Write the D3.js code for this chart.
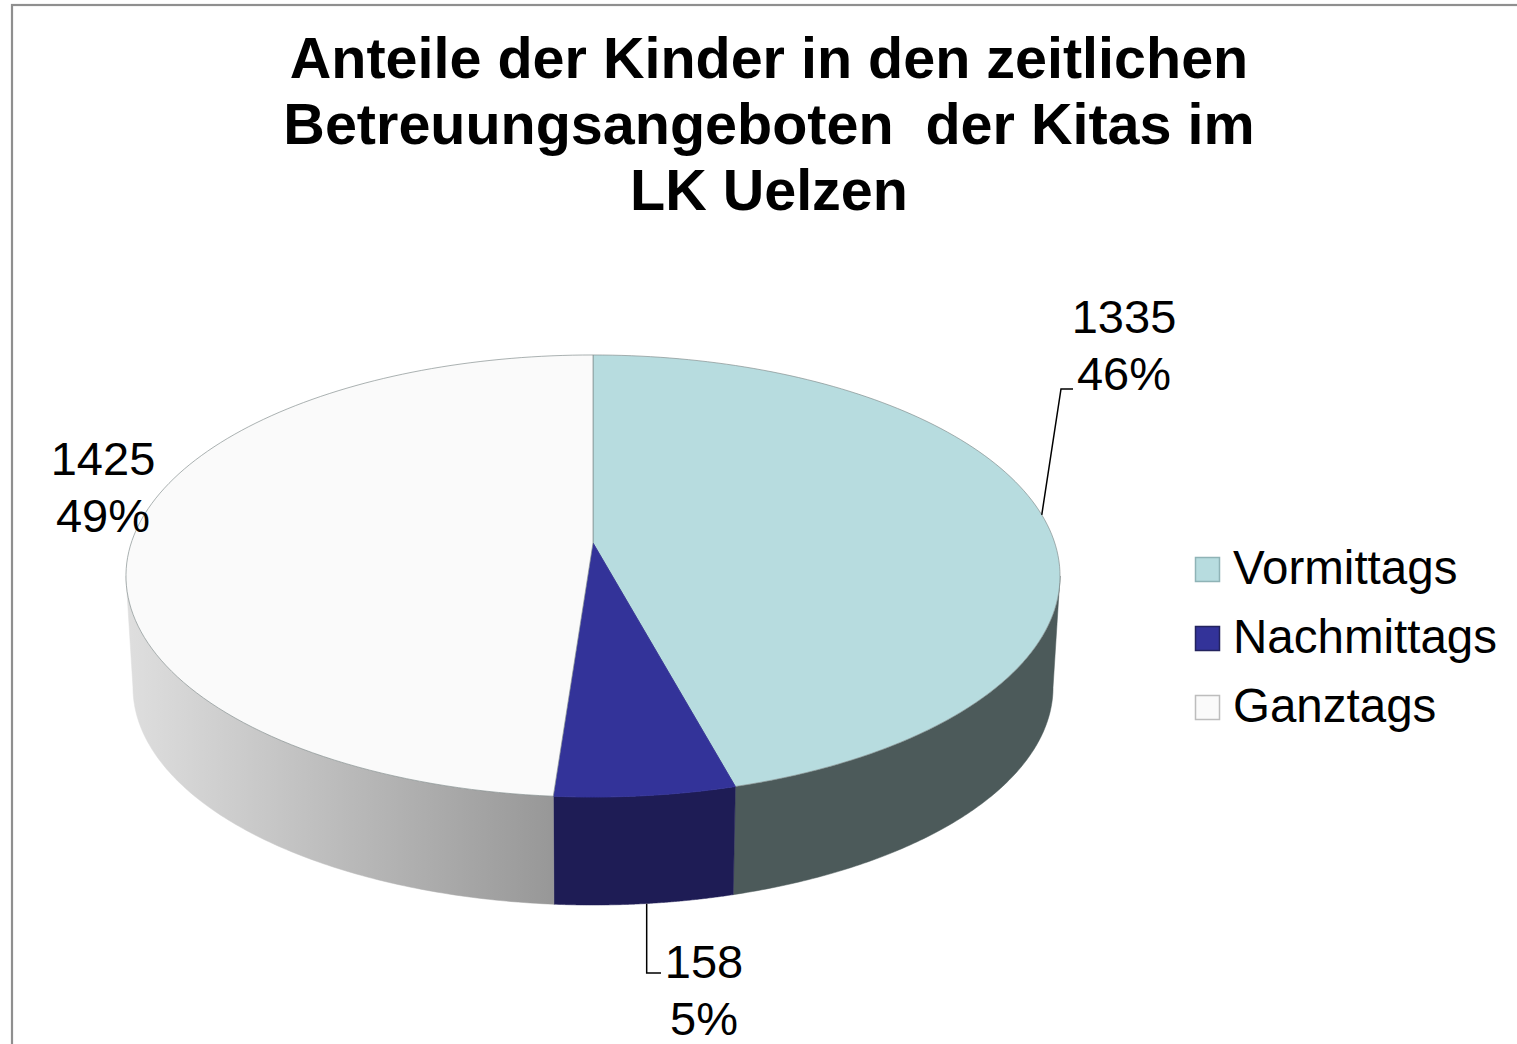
<!DOCTYPE html>
<html>
<head>
<meta charset="utf-8">
<script src="https://cdn.jsdelivr.net/npm/d3@7"></script>
<style>
  html, body { margin: 0; padding: 0; background: #fff; }
  svg { display: block; }
  text { font-family: "Liberation Sans", Arial, sans-serif; fill: #000; }
</style>
</head>
<body>
<svg id="chart" width="1517" height="1044"></svg>
<script>
// ---- data ----
const categories = ["Vormittags", "Nachmittags", "Ganztags"];
const values = [1335, 158, 1425];
const titleLines = ["Anteile der Kinder in den zeitlichen", "Betreuungsangeboten  der Kitas im", "LK Uelzen"];
const topColors = ["#b7dcdf", "#333399", "#fafafa"];
const sideColors = ["#4c5a5a", "#1e1c55", "url(#gSide)"];
const legendStroke = ["#8fb3b6", "#23235e", "#bdbdbd"];

// ---- geometry ----
const svg = d3.select("#chart");
const W = 1517, H = 1044;
const cx = 593, cy = 543, R = 461.8, B = 216.1, k = 0.1493, T = 111.8, s = 0.985;

function proj(theta, bottom) {
  const u = Math.sin(theta), v = -Math.cos(theta);
  const p = 1 / (1 - k * v);
  if (!bottom) return [cx + R * u * p, cy + B * v * p];
  return [cx + s * R * u * p, cy + T + s * B * v * p];
}

const defs = svg.append("defs");
const g = defs.append("linearGradient").attr("id", "gSide")
  .attr("gradientUnits", "userSpaceOnUse").attr("x1", 130).attr("x2", 556).attr("y1", 0).attr("y2", 0);
g.append("stop").attr("offset", "0%").attr("stop-color", "#dedede");
g.append("stop").attr("offset", "100%").attr("stop-color", "#979797");

// frame
svg.append("rect").attr("x", 12).attr("y", 5).attr("width", W + 20).attr("height", H + 20)
  .attr("fill", "#fff").attr("stroke", "#8f8f8f").attr("stroke-width", 2.2);

// title
const title = svg.append("text").attr("text-anchor", "middle")
  .style("font-weight", "bold").style("font-size", "57.5px").attr("xml:space", "preserve");
titleLines.forEach((t, i) => {
  title.append("tspan").attr("x", 769).attr("y", 78 + i * 66).text(t);
});

const pie = d3.pie().sort(null).value(d => d);
const arcs = pie(values);
const total = d3.sum(values);
const pct = d3.format(".0%");

const visL = Math.acos(-k) , visR = 2 * Math.PI - Math.acos(-k);
const N = 120;
function arcPts(a0, a1, bottom) {
  const pts = [];
  for (let i = 0; i <= N; i++) pts.push(proj(a0 + (a1 - a0) * i / N, bottom));
  return pts;
}

const pieG = svg.append("g");
// sides
arcs.forEach((a, i) => {
  const a0 = Math.max(a.startAngle, visL), a1 = Math.min(a.endAngle, visR);
  if (a1 <= a0) return;
  const pts = arcPts(a0, a1, false).concat(arcPts(a0, a1, true).reverse());
  pieG.append("path").attr("d", d3.line()(pts) + "Z")
    .attr("fill", sideColors[i]).attr("stroke", sideColors[i]).attr("stroke-width", 0.5);
});
// tops
arcs.forEach((a, i) => {
  const pts = [[cx, cy]].concat(arcPts(a.startAngle, a.endAngle, false));
  pieG.append("path").attr("d", d3.line()(pts) + "Z")
    .attr("fill", topColors[i])
    .attr("stroke", i === 1 ? topColors[i] : "rgba(130,140,140,0.75)")
    .attr("stroke-width", 0.9).attr("stroke-linejoin", "round");
});

// labels
const labelPos = [[1124, 333, 390], [704, 978, 1035], [103, 475, 532]];
arcs.forEach((a, i) => {
  const t = svg.append("text").attr("text-anchor", "middle").style("font-size", "47px");
  t.append("tspan").attr("x", labelPos[i][0]).attr("y", labelPos[i][1]).text(values[i]);
  t.append("tspan").attr("x", labelPos[i][0]).attr("y", labelPos[i][2]).text(pct(values[i] / total));
});
// leader lines
const mid0 = (arcs[0].startAngle + arcs[0].endAngle) / 2;
const p0 = proj(mid0, false);
svg.append("path").attr("d", d3.line()([p0, [1061, 389], [1073, 389]]))
  .attr("fill", "none").attr("stroke", "#000").attr("stroke-width", 1.5);
const mid1 = (arcs[1].startAngle + arcs[1].endAngle) / 2;
const p1 = proj(mid1, true);
svg.append("path").attr("d", d3.line()([[p1[0] + 2, p1[1]], [p1[0] + 2, 973], [661, 973]]))
  .attr("fill", "none").attr("stroke", "#000").attr("stroke-width", 1.5);

// legend
const leg = svg.append("g");
categories.forEach((c, i) => {
  const y = 557 + i * 69;
  leg.append("rect").attr("x", 1195.5).attr("y", y + 0.5).attr("width", 24).attr("height", 24)
    .attr("fill", topColors[i]).attr("stroke", legendStroke[i]).attr("stroke-width", 1.5);
  leg.append("text").attr("x", 1233).attr("y", y + 27).style("font-size", "47.5px").text(c);
});
</script>
</body>
</html>
